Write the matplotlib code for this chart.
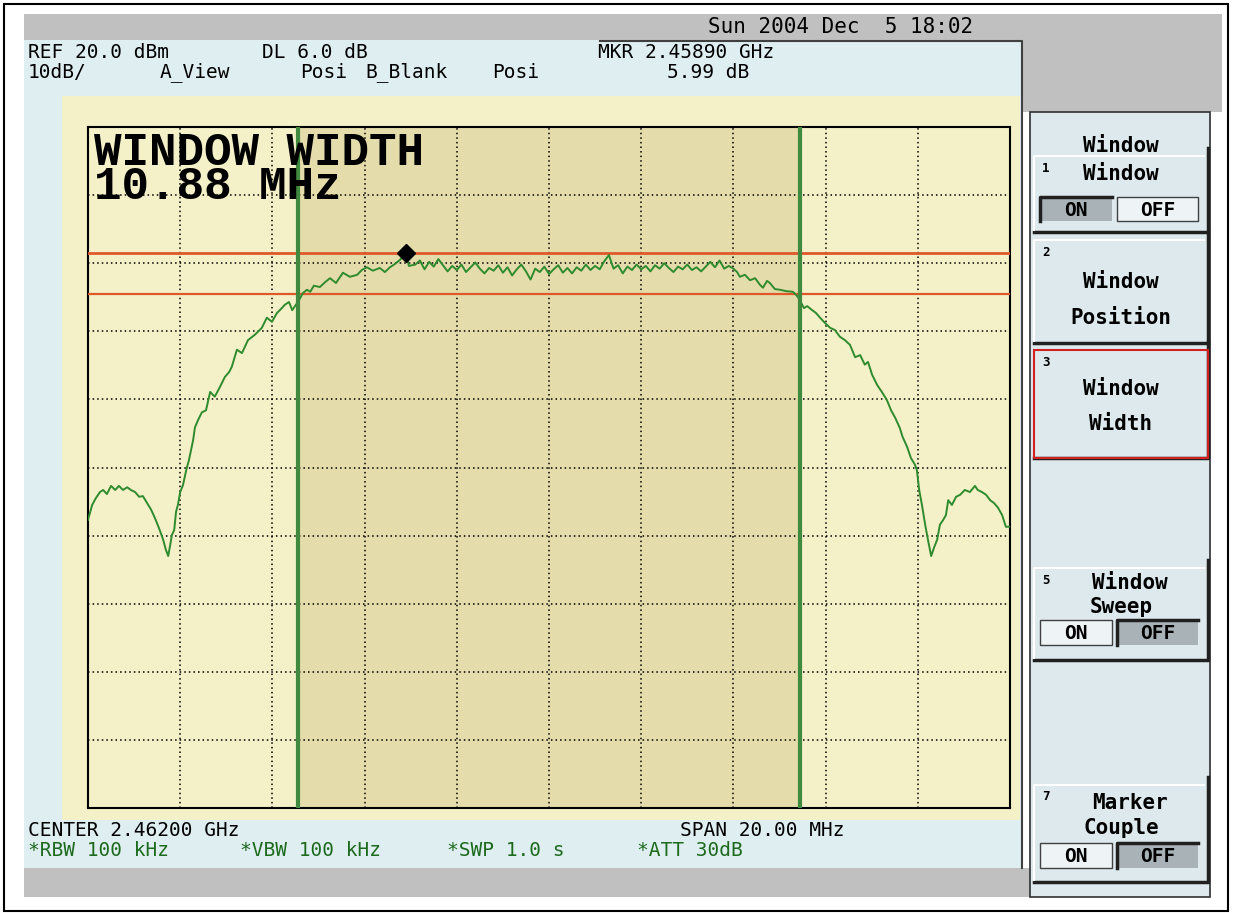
import matplotlib
matplotlib.use("Agg")
import matplotlib.pyplot as plt
from matplotlib.patches import Rectangle

# --- trace data (frequency in MHz, level in dBm) ---
freq_mhz = [
    2452.00, 2452.09, 2452.17, 2452.26, 2452.33, 2452.41, 2452.50, 2452.59, 2452.67, 2452.76,
    2452.85, 2452.93, 2453.02, 2453.11, 2453.19, 2453.28, 2453.37, 2453.45, 2453.54, 2453.63,
    2453.69, 2453.74, 2453.78, 2453.82, 2453.87, 2453.91, 2453.95, 2454.00, 2454.06, 2454.13,
    2454.19, 2454.28, 2454.32, 2454.39, 2454.47, 2454.56, 2454.65, 2454.75, 2454.86, 2454.97,
    2455.06, 2455.12, 2455.23, 2455.34, 2455.47, 2455.62, 2455.77, 2455.88, 2455.99, 2456.10,
    2456.19, 2456.27, 2456.36, 2456.43, 2456.51, 2456.58, 2456.66, 2456.75, 2456.82, 2456.90,
    2457.03, 2457.14, 2457.25, 2457.38, 2457.53, 2457.68, 2457.84, 2457.94, 2458.05, 2458.18,
    2458.33, 2458.44, 2458.55, 2458.66, 2458.77, 2458.90, 2458.96,
    2459.1, 2459.2, 2459.3, 2459.4, 2459.5, 2459.6, 2459.7, 2459.8, 2459.9, 2460.0,
    2460.1, 2460.2, 2460.3, 2460.4, 2460.5, 2460.6, 2460.7, 2460.8, 2460.9, 2461.0,
    2461.1, 2461.2, 2461.3, 2461.4, 2461.5, 2461.6, 2461.7, 2461.8, 2461.9, 2462.0,
    2462.1, 2462.2, 2462.3, 2462.4, 2462.5, 2462.6, 2462.7, 2462.8, 2462.9, 2463.0,
    2463.1, 2463.2, 2463.3, 2463.4, 2463.5, 2463.6, 2463.7, 2463.8, 2463.9, 2464.0,
    2464.1, 2464.2, 2464.3, 2464.4, 2464.5, 2464.6, 2464.7, 2464.8, 2464.9, 2465.0,
    2465.1, 2465.2, 2465.3, 2465.4, 2465.5, 2465.6, 2465.7, 2465.8, 2465.9, 2466.0,
    2466.08, 2466.14, 2466.25, 2466.36, 2466.47, 2466.58, 2466.64, 2466.73, 2466.79, 2466.90,
    2467.01, 2467.14, 2467.29, 2467.38, 2467.44, 2467.53, 2467.60, 2467.71, 2467.79, 2467.88,
    2467.99, 2468.10, 2468.20, 2468.31, 2468.42, 2468.53, 2468.64, 2468.75, 2468.85, 2468.92,
    2469.01, 2469.12, 2469.22, 2469.33, 2469.42, 2469.51, 2469.61, 2469.67, 2469.77, 2469.85,
    2469.94, 2469.98, 2470.03, 2470.09, 2470.16, 2470.22, 2470.29, 2470.35, 2470.42, 2470.48,
    2470.55, 2470.61, 2470.66, 2470.74, 2470.83, 2470.92, 2471.02, 2471.13, 2471.24, 2471.30,
    2471.39, 2471.48, 2471.57, 2471.65, 2471.74, 2471.83, 2471.91, 2471.96, 2472.00,
]
level_dbm = [
    -37.7, -35.5, -34.5, -33.6, -33.3, -33.9, -32.7, -33.3, -32.7, -33.3,
    -32.9, -33.3, -33.6, -34.3, -34.2, -35.2, -36.2, -37.4, -38.9, -40.6,
    -42.1, -43.0, -41.5, -39.9, -39.2, -36.5, -35.5, -33.6, -32.6, -30.4,
    -28.9, -26.0, -24.1, -23.0, -21.9, -21.6, -18.9, -19.6, -18.2, -16.7,
    -16.0, -15.2, -12.7, -13.2, -11.3, -10.5, -9.5, -8.0, -8.6, -7.3,
    -6.7, -6.1, -5.7, -6.9, -6.1, -5.4, -4.4, -3.9, -4.2, -3.3,
    -3.5, -2.8, -2.2, -2.9, -1.4, -2.0, -1.7, -1.0, -0.6, -1.1,
    -0.7, -1.3, -0.6, -0.1, 0.5, 1.5, -0.4,
    -0.2, 0.4, -0.9, 0.2, -0.5, 0.6, -0.3, -1.2, -0.4, -1.0,
    -0.2, -1.3, -0.6, 0.1, -0.8, -1.5, -0.7, -1.1, -0.3, -1.4,
    -0.6, -1.8, -0.9, -0.2, -1.2, -2.4, -0.8, -1.3, -0.5, -1.6,
    -0.9, -0.3, -1.4, -0.7, -1.5, -0.6, -1.1, -0.2, -1.0, -0.4,
    -0.9, 0.3, 1.2, -0.8, -0.3, -1.5, -0.5, -1.0, -0.2, -0.9,
    -0.4, -1.2, -0.3, -0.8, 0.0, -0.7, -1.3, -0.5, -0.9, -0.2,
    -1.0, -0.6, -1.2, -0.5, 0.2, -0.6, 0.4, -0.8, -0.4, -0.8,
    -1.3, -2.0, -1.7, -2.5, -2.2, -3.2, -3.6, -2.6, -2.9, -3.8,
    -3.9, -4.1, -4.2, -4.8, -5.4, -6.6, -6.3, -6.9, -7.3, -8.0,
    -8.8, -9.5, -9.8, -10.8, -11.3, -12.0, -13.8, -13.5, -14.9, -14.5,
    -16.4, -17.9, -18.9, -20.1, -21.6, -22.7, -24.2, -25.5, -27.0, -28.6,
    -29.6, -30.4, -33.3, -35.5, -38.4, -40.6, -43.0, -41.8, -40.6, -38.4,
    -37.7, -37.0, -34.8, -35.5, -34.3, -34.0, -33.3, -33.6, -32.7, -33.3,
    -33.6, -34.0, -34.8, -35.2, -35.9, -37.0, -38.7, -38.7, -38.7,
]

center_mhz = 2462.0
span_mhz = 20.0
ref_level = 20.0
db_per_div = 10.0
window_start = 2456.56
window_stop = 2467.44
limit_upper = 1.5
limit_lower = -4.5
marker_freq = 2458.90
marker_level = 1.5

W, H = 1233, 913
fig = plt.figure(figsize=(W / 100, H / 100), dpi=100)
fig.patch.set_facecolor("white")

# background axes in pixel coordinates for the instrument frame
bg = fig.add_axes([0, 0, 1, 1])
bg.set_xlim(0, W)
bg.set_ylim(H, 0)
bg.axis("off")

MONO = "DejaVu Sans Mono"


def box(x0, y0, x1, y1, fc, ec="none", lw=0, z=1):
    bg.add_patch(Rectangle((x0, y0), x1 - x0, y1 - y0, facecolor=fc,
                           edgecolor=ec, linewidth=lw, zorder=z))


def txt(x, y, s, size=14, color="black", ha="left", weight="normal"):
    bg.text(x, y, s, fontsize=size, color=color, ha=ha, va="center",
            family=MONO, weight=weight, zorder=10)


# outer frame
box(4, 4, 1228, 911, "white", "black", 1.5, z=0)
# grey strips
box(24, 14, 1222, 40, "#c0c0c0")
box(1022, 40, 1222, 112, "#c0c0c0")
box(24, 868, 1030, 897, "#c0c0c0")
# main screen panel
box(24, 40, 1022, 868, "#dfeef1")
bg.plot([600, 1022, 1022], [41, 41, 868], color="#404040", lw=1.5, zorder=2)
# yellow display area
box(62, 96, 1020, 820, "#f4f0c8", z=2)

# header texts
txt(708, 27, "Sun 2004 Dec  5 18:02", size=15)
txt(28, 52, "REF 20.0 dBm")
txt(262, 52, "DL 6.0 dB")
txt(598, 52, "MKR 2.45890 GHz")
txt(28, 72, "10dB/")
txt(160, 72, "A_View")
txt(300, 72, "Posi")
txt(365, 72, "B_Blank")
txt(492, 72, "Posi")
txt(667, 72, "5.99 dB")

# footer texts
txt(28, 831, "CENTER 2.46200 GHz")
txt(680, 831, "SPAN 20.00 MHz")
green_txt = "#1c6a1c"
txt(28, 851, "*RBW 100 kHz", color=green_txt)
txt(240, 851, "*VBW 100 kHz", color=green_txt)
txt(447, 851, "*SWP 1.0 s", color=green_txt)
txt(637, 851, "*ATT 30dB", color=green_txt)

# --- soft-key menu on the right ---
box(1030, 112, 1210, 897, "#dde9ed", "#303030", 1.2)
txt(1121, 146, "Window", size=15, ha="center", weight="bold")


def button(top, bottom, num, lines, red=False):
    bg.plot([1034, 1208, 1208], [bottom, bottom, top - 8], color="#202020",
            lw=2.5, zorder=4)
    bg.plot([1034, 1034, 1204], [bottom - 2, top, top], color="white",
            lw=1.5, zorder=4)
    if red:
        box(1034, top, 1208, bottom, "none", "#d02020", 1.5, z=5)
    txt(1042, top + 12, num, size=9, weight="bold")
    for y, s, x in lines:
        txt(x, y, s, size=15, ha="center", weight="bold")


def toggle(y0, y1, on_pressed):
    for (x0, x1, label, pressed) in [(1040, 1112, "ON", on_pressed),
                                     (1117, 1198, "OFF", not on_pressed)]:
        if pressed:
            box(x0, y0, x1, y1, "#a9b3b7", z=4)
            bg.plot([x0, x0, x1], [y1, y0, y0], color="#202020", lw=2.5, zorder=5)
        else:
            box(x0, y0, x1, y1, "#eef4f6", "#404040", 1.0, z=4)
        txt((x0 + x1) / 2, (y0 + y1) / 2 + 1, label, size=14, ha="center",
            weight="bold")


button(156, 232, "1", [(174, "Window", 1121)])
toggle(197, 221, True)
button(240, 343, "2", [(282, "Window", 1121), (318, "Position", 1121)])
button(350, 458, "3", [(389, "Window", 1121), (424, "Width", 1121)], red=True)
button(568, 660, "5", [(583, "Window", 1130), (607, "Sweep", 1121)])
toggle(620, 645, False)
button(785, 882, "7", [(803, "Marker", 1130), (828, "Couple", 1121)])
toggle(843, 868, False)

# --- spectrum display ---
ax = fig.add_axes([88 / W, 1 - 808 / H, 922 / W, 681 / H])
ax.set_facecolor("#f4f0c8")
ax.set_zorder(3)
f_lo = center_mhz - span_mhz / 2
f_hi = center_mhz + span_mhz / 2
ax.set_xlim(f_lo, f_hi)
ax.set_ylim(ref_level - 10 * db_per_div, ref_level)
ax.set_xticks([f_lo + i * span_mhz / 10 for i in range(11)])
ax.set_yticks([ref_level - i * db_per_div for i in range(11)])
ax.tick_params(length=0, labelbottom=False, labelleft=False)
ax.grid(True, color="black", linestyle=(0, (1, 2)), linewidth=1.1)
for sp in ax.spines.values():
    sp.set_color("black")
    sp.set_linewidth(1.5)

ax.axvspan(window_start, window_stop, color="#e4dcaa", zorder=0)
ax.set_axisbelow(True)
ax.axhline(limit_upper, color="#e0582a", lw=2, zorder=3)
ax.axhline(limit_lower, color="#e0582a", lw=1.6, zorder=3)
ax.plot(freq_mhz, level_dbm, color="#2e8b2e", lw=1.4, zorder=4)
ax.axvline(window_start, color="#3f8a3f", lw=3, zorder=5)
ax.axvline(window_stop, color="#3f8a3f", lw=3, zorder=5)
ax.plot([marker_freq], [marker_level], marker="D", color="black", ms=9, zorder=6)

# window width readout, in pixel coordinates of the screen
ax.text(94, 131, "WINDOW WIDTH\n10.88 MHz", fontsize=33, family="Liberation Mono",
        weight="bold", color="black", va="top", ha="left", linespacing=0.7,
        zorder=7, transform=bg.transData)

fig.savefig("out.png", dpi=100)
